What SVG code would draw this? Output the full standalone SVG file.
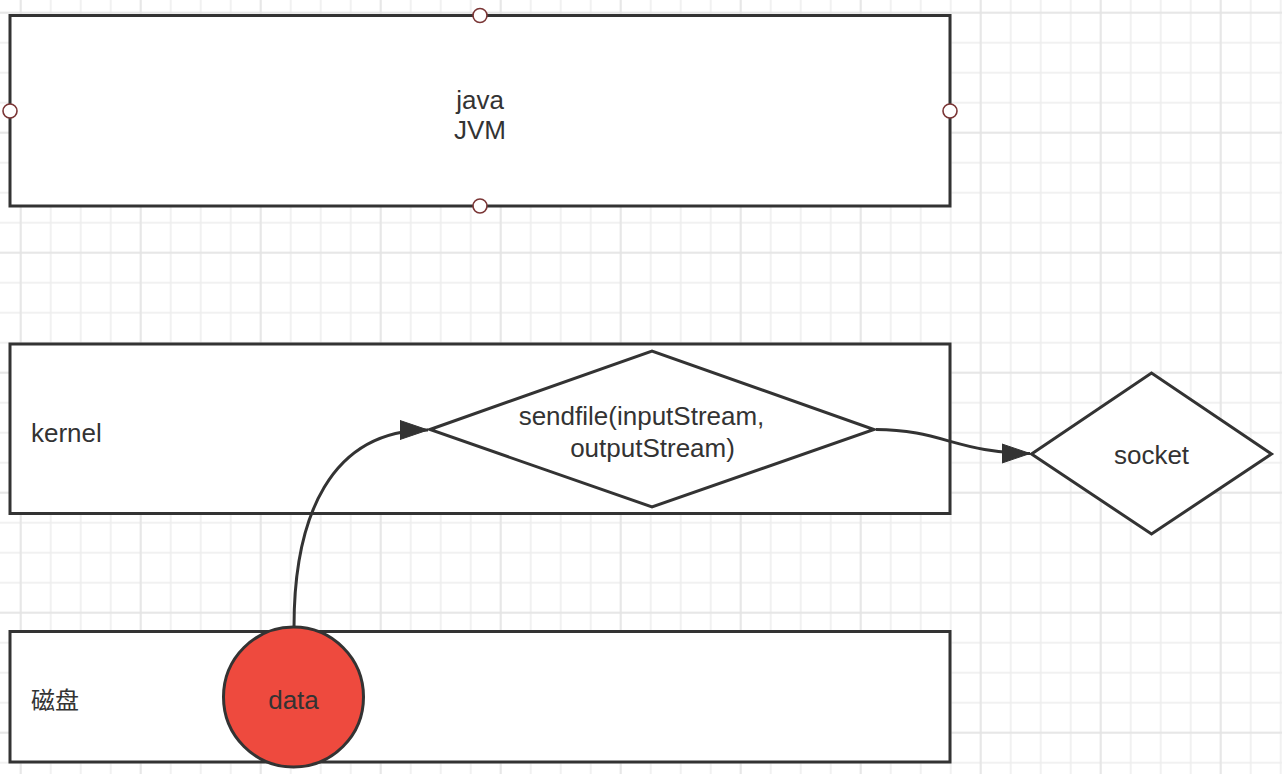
<svg xmlns="http://www.w3.org/2000/svg" width="1282" height="774" viewBox="0 0 1282 774">
  <style>
    .box { fill: #ffffff; stroke: #333333; stroke-width: 3; }
    .shape { fill: #ffffff; stroke: #333333; stroke-width: 3; stroke-linejoin: miter; }
    .port { fill: #ffffff; stroke: #7a3535; stroke-width: 1.6; }
    .edge { fill: none; stroke: #333333; stroke-width: 3; }
    .lbl { font-family: "Liberation Sans", Arial, sans-serif; font-size: 26px; fill: #333333; }
    .cjk { font-family: "Noto Sans CJK SC", "Liberation Sans", sans-serif; font-size: 24px; fill: #333333; }
  </style>
  <defs>
    <pattern id="minor" patternUnits="userSpaceOnUse" x="5.7" y="-2.3" width="30" height="30">
      <path d="M15,0 V30 M0,15 H30" stroke="#ededed" stroke-width="1.5" fill="none"/>
    </pattern>
    <pattern id="major" patternUnits="userSpaceOnUse" x="5.7" y="-2.3" width="120" height="120">
      <path d="M15,0 V120 M0,15 H120" stroke="#e4e4e4" stroke-width="1.5" fill="none"/>
    </pattern>
    <marker id="arrow" markerUnits="userSpaceOnUse" markerWidth="30" markerHeight="22" viewBox="0 0 30 22" refX="28" refY="11" orient="auto">
      <path d="M0,1.5 L28,11 L0,20.5 Z" fill="#333333" stroke="#333333" stroke-width="1"/>
    </marker>
  </defs>

  <rect x="0" y="0" width="1282" height="774" fill="#ffffff"/>
  <rect x="0" y="0" width="1282" height="774" fill="url(#minor)"/>
  <rect x="0" y="0" width="1282" height="774" fill="url(#major)"/>

  <g id="jvm">
    <rect class="box" x="10" y="15.5" width="940" height="190.5"/>
    <text class="lbl" x="480" y="109" text-anchor="middle">java</text>
    <text class="lbl" x="480" y="139" text-anchor="middle">JVM</text>
    <circle class="port" cx="480" cy="15.5" r="7"/>
    <circle class="port" cx="10" cy="111" r="7"/>
    <circle class="port" cx="950" cy="111" r="7"/>
    <circle class="port" cx="480" cy="206" r="7"/>
  </g>

  <g id="kernel">
    <rect class="box" x="10" y="344" width="940" height="169.5"/>
    <text class="lbl" x="31" y="442">kernel</text>
  </g>

  <g id="disk">
    <rect class="box" x="10" y="631.5" width="940" height="130.5"/>
    <text class="cjk" x="31" y="709">磁盘</text>
  </g>

  <g id="sendfile">
    <polygon class="shape" points="430,429.5 652,351 874,429.5 652,507"/>
    <text class="lbl" x="641.5" y="424.5" text-anchor="middle">sendfile(inputStream,</text>
    <text class="lbl" x="652.5" y="457" text-anchor="middle">outputStream)</text>
  </g>

  <g id="socket">
    <polygon class="shape" points="1031.5,454 1151.5,373 1271.5,454 1151.5,534"/>
    <text class="lbl" x="1151.5" y="464" text-anchor="middle">socket</text>
  </g>

  <g id="connectors">
    <path class="edge" d="M294,627 C294,517 330,430 428,430" marker-end="url(#arrow)"/>
    <path class="edge" d="M876,429.5 C940,429.5 960,453.5 1030,453.5" marker-end="url(#arrow)"/>
  </g>

  <g id="data">
    <circle cx="293.5" cy="697" r="70" fill="#ee4a3e" stroke="#333333" stroke-width="3"/>
    <text class="lbl" x="293.5" y="709" text-anchor="middle">data</text>
  </g>
</svg>
